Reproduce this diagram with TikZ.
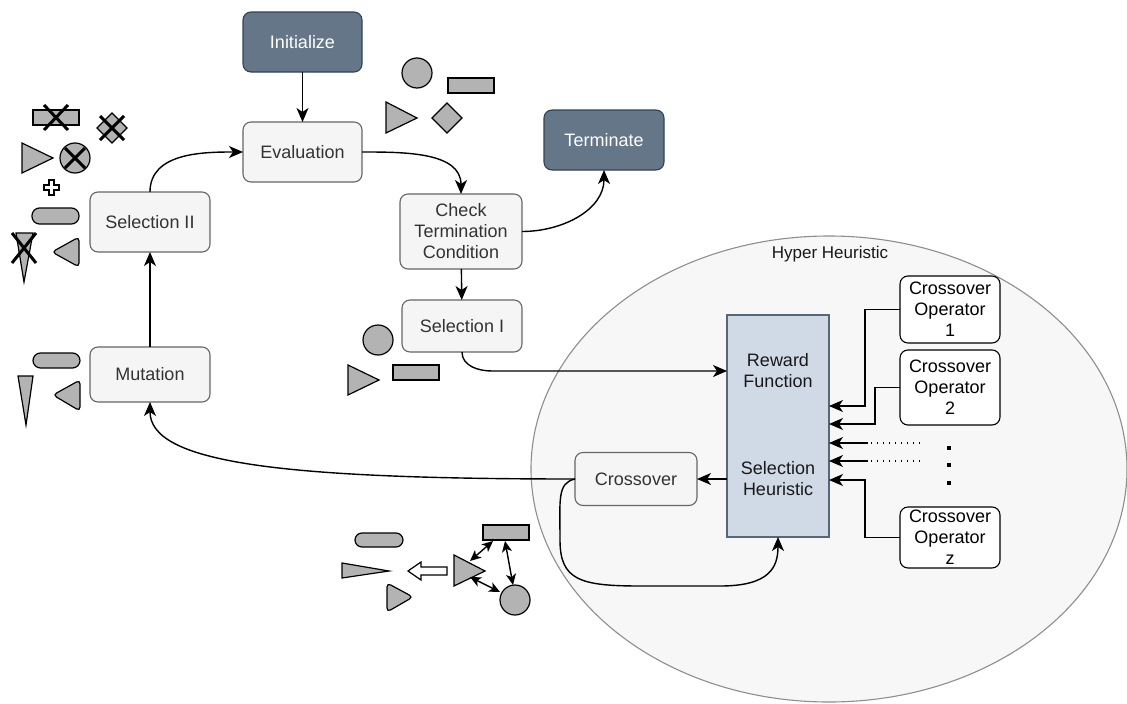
\documentclass[tikz,border=0pt]{standalone}
\usepackage{fontspec}
\setmainfont{Liberation Sans}
\usetikzlibrary{arrows.meta, shapes.geometric}
\definecolor{boxfill}{HTML}{F5F5F5}
\definecolor{boxline}{HTML}{666666}
\definecolor{boxtext}{HTML}{333333}
\definecolor{darkfill}{HTML}{647687}
\definecolor{darkline}{HTML}{314354}
\definecolor{heurfill}{HTML}{D0DAE6}
\definecolor{heurline}{HTML}{56677A}
\definecolor{areafill}{HTML}{F7F7F7}
\definecolor{arealine}{HTML}{8E8E8E}
\definecolor{shapegray}{HTML}{B3B3B3}
\tikzset{box/.style={rectangle,draw=boxline,fill=boxfill,text=boxtext,rounded corners=8pt,align=center,inner sep=0pt,outer sep=0pt,line width=1.1pt,font=\fontsize{18}{21}\selectfont},
darkbox/.style={box,draw=darkline,fill=darkfill,text=white},
opbox/.style={box,draw=black,fill=white,text=black,minimum width=100pt},
heurbox/.style={rectangle,draw=heurline,fill=heurfill,inner sep=0pt,outer sep=0pt,line width=1.1pt},
hhtext/.style={align=center,inner sep=0pt,text=black!90,font=\fontsize{18}{21}\selectfont},
hharea/.style={ellipse,draw=arealine,fill=areafill,line width=1.1pt,minimum width=596pt,minimum height=466pt},
line/.style={-{Stealth[length=14pt,width=12pt,inset=4pt]},line width=1.4pt},
dotline/.style={line width=1.2pt,dash pattern=on 1.5pt off 4.5pt},
shp/.style={fill=shapegray,draw=black,line width=1.2pt},
xmark/.style={line width=3pt},
dbl/.style={{Stealth[length=11pt,width=10pt,inset=3pt]}-{Stealth[length=11pt,width=10pt,inset=3pt]},line width=1.4pt}}

\begin{document}
\begin{tikzpicture}[x=1pt,y=-1pt]
\useasboundingbox (0,0) rectangle (1127,704);
% hyper heuristic area
\node[hharea] (hh) at (829,469) {};
\node[hhtext,font=\fontsize{17}{20}\selectfont] (hhlabel) at (830,254) {Hyper Heuristic};
% main loop
\node[darkbox,minimum width=119pt,minimum height=60pt] (init) at (302.5,42) {Initialize};
\node[box,minimum width=119pt,minimum height=60pt] (eval) at (302.5,152) {Evaluation};
\node[darkbox,minimum width=120pt,minimum height=60pt] (term) at (604,140) {Terminate};
\node[box,minimum width=122pt,minimum height=75pt] (check) at (461,231.5) {Check\\Termination\\Condition};
\node[box,minimum width=120pt,minimum height=52pt] (sel1) at (462,326) {Selection I};
\node[box,minimum width=120pt,minimum height=60pt] (sel2) at (150,222) {Selection II};
\node[box,minimum width=120pt,minimum height=55pt] (mut) at (150,374.5) {Mutation};
\node[box,minimum width=122pt,minimum height=53pt] (cross) at (636,479) {Crossover};
% heuristic box and operators
\node[heurbox,minimum width=102pt,minimum height=222pt] (heur) at (778,426) {};
\node[hhtext] (rf) at (778,371) {Reward\\Function};
\node[hhtext] (sh) at (778,479) {Selection\\Heuristic};
\node[opbox,minimum height=67pt] (op1) at (950,309.5) {Crossover\\Operator\\1};
\node[opbox,minimum height=75pt] (op2) at (950,387.5) {Crossover\\Operator\\2};
\node[opbox,minimum height=61pt] (opz) at (950,537.5) {Crossover\\Operator\\z};
\coordinate (d1) at (920,443);
\coordinate (d2) at (920,461);

\draw[line] (init) -- (eval);
\draw[line] (eval.east) to[out=0,in=90] (check.north);
\draw[line] (check.east) to[out=0,in=-90] (term.south);
\draw[line] (check) -- (sel1);
\draw[line] (sel1.south) to[out=-90,in=180] ++(30,19) -- (heur.west |- rf);
\draw[line] (heur.west |- cross.east) -- (cross.east);
\draw[line] (cross.west) .. controls +(-300,0) and +(0,60) .. (mut.south);
\draw[line] (cross.west) .. controls +(-18,4) and +(0,-40) .. (560,540)
  .. controls +(0,40) and +(-60,0) .. (640,586) -- (720,586)
  .. controls +(50,0) and +(0,30) .. (heur.south);
\draw[line] (mut) -- (sel2);
\draw[line] (sel2.north) to[out=90,in=180] (eval.west);

\draw[line] (op1.west) -- ++(-35,0) |- ([yshift=20pt]heur.east);
\draw[line] (op2.west) -- ++(-25,0) |- ([yshift=2pt]heur.east);
\draw[line] (opz.west) -- ++(-35,0) |- ([yshift=-54pt]heur.east);
\draw[dotline] (d1) -- ++(-52,0) coordinate (d1e);
\draw[line] (d1e) -- (heur.east |- d1);
\draw[dotline] (d2) -- ++(-52,0) coordinate (d2e);
\draw[line] (d2e) -- (heur.east |- d2);
\foreach \y in {448,465,483}
  \fill (947,\y-2) rectangle ++(4,4);

% individuals near evaluation
\draw[shp] (417,73) circle[radius=15];
\draw[shp] (448,78) rectangle (494,93);
\draw[shp] (386,102) -- (417,118) -- (386,133) -- cycle;
\draw[shp] (447,103) -- (462,118) -- (447,133) -- (432,118) -- cycle;

% individuals near selection I
\draw[shp] (378,340) circle[radius=15];
\draw[shp] (348,365) -- (379,380) -- (348,395) -- cycle;
\draw[shp] (393,365) rectangle (439,380);

% individuals near selection II
\draw[shp] (33,110) rectangle (79,125);
\draw[xmark] (44,105) -- (68,130) (68,105) -- (44,130);
\draw[shp] (112,113) -- (127,128) -- (112,143) -- (97,128) -- cycle;
\draw[xmark] (100,116) -- (124,140) (124,116) -- (100,140);
\draw[shp] (22,143) -- (53,158) -- (22,173) -- cycle;
\draw[shp] (75,158) circle[radius=15];
\draw[xmark] (65,148) -- (85,168) (85,148) -- (65,168);
\draw[fill=white,line width=1.2pt] (49,180) -- (54,180) -- (54,185) -- (59,185) -- (59,190) -- (54,190)
  -- (54,195) -- (49,195) -- (49,190) -- (44,190) -- (44,185) -- (49,185) -- cycle;
\draw[shp,rounded corners=7.5pt] (32,208) rectangle (79,224);
\draw[shp] (16,233) -- (33,233) -- (24,282) -- cycle;
\draw[xmark] (12,233) -- (36,263) (36,233) -- (12,263);
\draw[shp,rounded corners=4pt] (79,237) -- (79,267) -- (52,252) -- cycle;

% individuals near mutation
\draw[shp,rounded corners=7.5pt] (33,353) rectangle (80,368);
\draw[shp] (18,376) -- (33,376) -- (26,425) -- cycle;
\draw[shp,rounded corners=4pt] (80,380) -- (80,411) -- (53,395) -- cycle;

% individuals near crossover
\draw[shp,rounded corners=7pt] (355,533) rectangle (403,547);
\draw[shp] (342,563) -- (389,571) -- (342,578) -- cycle;
\draw[shp,rounded corners=4pt] (387,583) -- (413,597) -- (387,612) -- cycle;
\draw[fill=white,line width=1.2pt] (408,571) -- (421,562) -- (421,567) -- (447,567) -- (447,575)
  -- (421,575) -- (421,580) -- cycle;
\draw[shp] (454,555) -- (485,571) -- (454,586) -- cycle;
\draw[shp] (483,525) rectangle (529,540);
\draw[shp] (515,600) circle[radius=15];
\draw[dbl] (470,561) -- (493,541);
\draw[dbl] (505,541) -- (513,585);
\draw[dbl] (470,577) -- (500,592);
\end{tikzpicture}
\end{document}
